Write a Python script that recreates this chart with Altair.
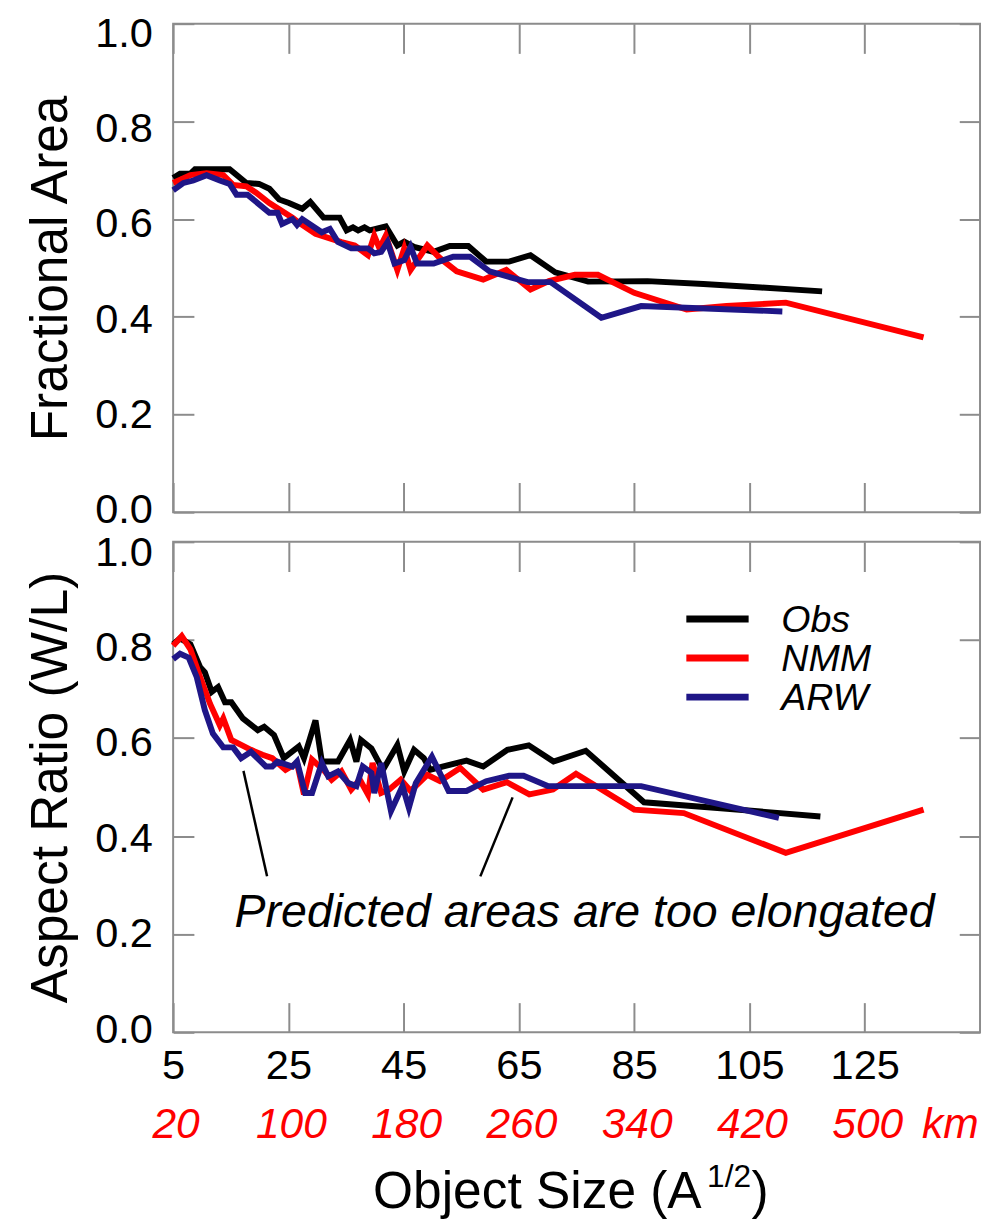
import altair as alt
import pandas as pd

# ---------------- data ----------------
SERIES = ["Obs", "NMM", "ARW"]
COLORS = ["#000000", "#ff0000", "#1f1687"]

X_TICKS = [5, 25, 45, 65, 85, 105, 125]
Y_TICKS = [0.0, 0.2, 0.4, 0.6, 0.8, 1.0]
KM_LABELS = ["20", "100", "180", "260", "340", "420", "500"]
KM_UNIT = "km"

TOP_TITLE = "Fractional Area"
BOT_TITLE = "Aspect Ratio (W/L)"
X_TITLE_MAIN = "Object Size (A"
X_TITLE_SUP = "1/2"
X_TITLE_END = ")"
NOTE = "Predicted areas are too elongated"

# top panel: Fractional Area
obs_top_x = [5, 6.2, 8.0, 8.8, 14.8, 17.7, 19.9, 21.7, 23.4, 25.1, 27.4, 28.8, 31.1, 33.9, 35.1, 36.2,
             37.1, 38.2, 39.1, 41.9, 43.9, 45.1, 46.8, 50.2, 53.0, 56.2, 59.3, 63.3, 67.0, 71.3, 77.0,
             87.3, 97.0, 107.0, 117.6]
obs_top_y = [0.684, 0.693, 0.693, 0.702, 0.702, 0.674, 0.672, 0.662, 0.640, 0.633, 0.621, 0.635, 0.603,
             0.603, 0.577, 0.583, 0.577, 0.583, 0.577, 0.585, 0.546, 0.554, 0.543, 0.533, 0.545, 0.545,
             0.513, 0.513, 0.526, 0.491, 0.472, 0.473, 0.467, 0.460, 0.452]

nmm_top_x = [5, 8.0, 10.8, 13.7, 15.4, 17.7, 19.4, 21.7, 23.4, 25.7, 26.8, 29.7, 34.2, 36.5, 38.8, 39.9,
             40.8, 41.9, 43.9, 45.1, 46.2, 49.1, 51.3, 54.2, 58.8, 62.8, 67.0, 70.2, 74.7, 78.7, 85.0,
             94.1, 101.0, 111.3, 135.2]
nmm_top_y = [0.674, 0.690, 0.694, 0.690, 0.670, 0.667, 0.654, 0.633, 0.620, 0.603, 0.593, 0.570, 0.553,
             0.546, 0.526, 0.566, 0.540, 0.566, 0.496, 0.540, 0.496, 0.546, 0.520, 0.493, 0.476, 0.496,
             0.456, 0.473, 0.486, 0.486, 0.449, 0.415, 0.422, 0.429, 0.358]

arw_top_x = [5, 6.8, 8.5, 10.8, 13.1, 14.8, 16.0, 17.9, 21.7, 23.1, 23.9, 25.7, 26.5, 27.4, 30.8, 32.2,
             33.6, 35.9, 38.8, 39.9, 41.1, 42.2, 43.4, 45.1, 46.2, 47.3, 50.2, 53.6, 56.5, 59.9, 66.5,
             70.5, 79.3, 86.2, 110.7]
arw_top_y = [0.659, 0.674, 0.679, 0.690, 0.679, 0.672, 0.650, 0.650, 0.613, 0.613, 0.590, 0.600, 0.588,
             0.600, 0.573, 0.580, 0.553, 0.540, 0.540, 0.530, 0.533, 0.553, 0.509, 0.516, 0.543, 0.509,
             0.509, 0.523, 0.523, 0.493, 0.471, 0.471, 0.398, 0.422, 0.411]

# bottom panel: Aspect Ratio
obs_bot_x = [5, 6.2, 8.0, 9.7, 10.5, 11.7, 12.8, 14.0, 15.1, 17.1, 19.7, 20.8, 22.5, 24.2, 26.8, 27.7,
             29.7, 30.8, 33.6, 35.7, 36.8, 37.6, 39.4, 41.4, 43.9, 45.1, 46.8, 48.5, 49.6, 51.9, 55.9,
             58.8, 63.0, 66.7, 71.0, 76.6, 86.7, 100.0, 117.3]
obs_bot_y = [0.791, 0.803, 0.791, 0.744, 0.734, 0.694, 0.704, 0.673, 0.673, 0.640, 0.616, 0.623, 0.606,
             0.559, 0.583, 0.559, 0.636, 0.552, 0.552, 0.596, 0.552, 0.596, 0.579, 0.535, 0.586, 0.532,
             0.576, 0.559, 0.535, 0.542, 0.554, 0.542, 0.576, 0.585, 0.552, 0.574, 0.469, 0.457, 0.440]

nmm_bot_x = [5, 6.5, 8.0, 9.7, 11.4, 13.1, 13.7, 15.1, 16.8, 18.5, 20.5, 22.2, 24.5, 26.5, 27.7, 29.1,
             31.1, 32.5, 34.2, 35.9, 37.4, 38.8, 39.6, 41.1, 42.5, 44.5, 46.2, 49.1, 51.3, 54.8, 58.8,
             62.9, 66.8, 70.9, 74.9, 85.0, 93.6, 111.3, 135.2]
nmm_bot_y = [0.788, 0.808, 0.781, 0.724, 0.670, 0.626, 0.640, 0.596, 0.586, 0.576, 0.566, 0.559, 0.535,
             0.549, 0.485, 0.556, 0.535, 0.515, 0.532, 0.495, 0.515, 0.485, 0.549, 0.488, 0.495, 0.515,
             0.492, 0.525, 0.512, 0.539, 0.495, 0.510, 0.485, 0.495, 0.527, 0.454, 0.447, 0.366, 0.454]

arw_bot_x = [5, 6.2, 7.7, 9.1, 10.5, 11.9, 13.7, 15.4, 16.8, 18.5, 21.1, 22.2, 23.1, 25.7, 26.5, 27.9,
             29.1, 30.8, 31.9, 33.6, 35.4, 36.8, 37.9, 39.4, 39.9, 41.1, 42.8, 44.8, 45.9, 47.1, 49.9,
             52.8, 55.9, 59.3, 63.3, 65.8, 70.0, 86.2, 110.1]
arw_bot_y = [0.761, 0.772, 0.764, 0.724, 0.657, 0.609, 0.581, 0.581, 0.559, 0.572, 0.542, 0.542, 0.552,
             0.542, 0.552, 0.488, 0.488, 0.549, 0.522, 0.532, 0.508, 0.502, 0.542, 0.529, 0.488, 0.549,
             0.451, 0.502, 0.458, 0.508, 0.562, 0.492, 0.492, 0.512, 0.523, 0.523, 0.502, 0.502, 0.437]

# annotation pointers (data coordinates) and note position
ptr_x1 = [17.2, 63.9]
ptr_y1 = [0.533, 0.479]
ptr_x2 = [21.3, 58.3]
ptr_y2 = [0.318, 0.318]
note_x = [76.4]
note_y = [0.215]

# ---------------- styling ----------------
FONT = "Liberation Sans"
GRAY = "#8c8c8c"
W = 816
H_TOP = 494
H_BOT = 496


def long_df(xs_list, ys_list):
    rows = []
    for name, xs, ys in zip(SERIES, xs_list, ys_list):
        for i, (a, b) in enumerate(zip(xs, ys)):
            rows.append({"series": name, "x": a, "y": b, "i": i})
    return pd.DataFrame(rows)


top_df = long_df([obs_top_x, nmm_top_x, arw_top_x], [obs_top_y, nmm_top_y, arw_top_y])
bot_df = long_df([obs_bot_x, nmm_bot_x, arw_bot_x], [obs_bot_y, nmm_bot_y, arw_bot_y])

x_scale = alt.Scale(domain=[5, 145], nice=False, zero=False)
y_scale = alt.Scale(domain=[0, 1], nice=False, zero=False)
color = alt.Color("series:N", scale=alt.Scale(domain=SERIES, range=COLORS), legend=None)


def left_axis(title):
    return alt.Axis(orient="left", values=Y_TICKS, format=".1f", offset=-21, tickSize=21,
                    tickColor=GRAY, tickWidth=2, domain=False, grid=False, labelPadding=21,
                    labelOffset={"expr": "-3 + 13.5 * datum.value"},
                    labelFont=FONT, labelFontSize=42, labelColor="#000000",
                    labelFlush=False, labelOverlap=False,
                    title=title, titleFont=FONT, titleFontSize=52, titleFontWeight="normal",
                    titleColor="#000000", titleAngle=270, titleBaseline="bottom", titleX=-118)


def bottom_axis(show_labels):
    if show_labels:
        return alt.Axis(orient="bottom", values=X_TICKS, offset=-30, tickSize=30, tickColor=GRAY,
                        tickWidth=2, domain=False, grid=False, labelPadding=14, labelFont=FONT,
                        labelFontSize=42, labelColor="#000000", labelFlush=False, labelOverlap=False,
                        format="d")
    return alt.Axis(orient="bottom", values=X_TICKS, offset=-30, tickSize=30, tickColor=GRAY,
                    tickWidth=2, domain=False, grid=False, labels=False)


top_axis = alt.Axis(orient="top", values=X_TICKS, offset=-30, tickSize=30, tickColor=GRAY,
                    tickWidth=2, domain=False, grid=False, labels=False)
right_axis = alt.Axis(orient="right", values=Y_TICKS, offset=-21, tickSize=21, tickColor=GRAY,
                      tickWidth=2, domain=False, grid=False, labels=False)


def panel(df, title, show_labels, height, extra_layers):
    lines = alt.Chart(df).mark_line(strokeWidth=6).encode(
        x=alt.X("x:Q", scale=x_scale, axis=bottom_axis(show_labels), title=None),
        y=alt.Y("y:Q", scale=y_scale, axis=left_axis(title)),
        color=color,
        order="i:Q",
    )
    ghost = alt.Chart(df).mark_line(opacity=0).encode(
        x=alt.X("x:Q", scale=x_scale, axis=top_axis, title=None),
        y=alt.Y("y:Q", scale=y_scale, axis=right_axis, title=None),
        detail="series:N",
    )
    return alt.layer(lines, ghost, *extra_layers).resolve_axis(
        x="independent", y="independent").properties(width=W, height=height)


# ---- bottom panel extras ----
ptr_df = pd.DataFrame({"x": ptr_x1, "y": ptr_y1, "x2": ptr_x2, "y2": ptr_y2})
pointers = alt.Chart(ptr_df).mark_rule(strokeWidth=2.5, color="#000000").encode(
    x=alt.X("x:Q", scale=x_scale, axis=None),
    y=alt.Y("y:Q", scale=y_scale, axis=None),
    x2="x2:Q", y2="y2:Q",
)
note_df = pd.DataFrame({"x": note_x, "y": note_y, "t": [NOTE]})
note = alt.Chart(note_df).mark_text(font=FONT, fontSize=47, fontStyle="italic", align="center",
                                    baseline="alphabetic", color="#000000").encode(
    x=alt.X("x:Q", scale=x_scale, axis=None),
    y=alt.Y("y:Q", scale=y_scale, axis=None),
    text="t:N",
)

legend_layers = []
for i, (name, col) in enumerate(zip(SERIES, COLORS)):
    row = pd.DataFrame({"label": [name]})
    yy = 78 + 39.5 * i
    legend_layers.append(alt.Chart(row).mark_rule(strokeWidth=7, color=col).encode(
        x=alt.value(519), x2=alt.value(582), y=alt.value(yy)))
    legend_layers.append(alt.Chart(row).mark_text(
        align="left", baseline="middle", font=FONT, fontSize=38, fontStyle="italic",
        color="#000000", dy=2).encode(x=alt.value(615), y=alt.value(yy), text="label:N"))

km_df = pd.DataFrame({"x": X_TICKS, "t": KM_LABELS})
km_text = alt.Chart(km_df).mark_text(font=FONT, fontSize=43, fontStyle="italic", color="#ff0000",
                                     align="center", baseline="alphabetic", dx=3).encode(
    x=alt.X("x:Q", scale=x_scale, axis=None), y=alt.value(H_BOT + 107), text="t:N")
km_unit = alt.Chart(pd.DataFrame({"x": [X_TICKS[-1]], "t": [KM_UNIT]})).mark_text(
    font=FONT, fontSize=43, fontStyle="italic", color="#ff0000", align="left",
    baseline="alphabetic", dx=58).encode(
    x=alt.X("x:Q", scale=x_scale, axis=None), y=alt.value(H_BOT + 107), text="t:N")

xt = pd.DataFrame({"t": [X_TITLE_MAIN]})
xtitle_main = alt.Chart(xt).mark_text(font=FONT, fontSize=52, align="right", baseline="alphabetic",
                                      color="#000000").encode(
    x=alt.value(534.5), y=alt.value(674), text="t:N")
xtitle_sup = alt.Chart(pd.DataFrame({"t": [X_TITLE_SUP]})).mark_text(
    font=FONT, fontSize=32, align="left", baseline="alphabetic", color="#000000").encode(
    x=alt.value(540), y=alt.value(652), text="t:N")
xtitle_end = alt.Chart(pd.DataFrame({"t": [X_TITLE_END]})).mark_text(
    font=FONT, fontSize=52, align="left", baseline="alphabetic", color="#000000").encode(
    x=alt.value(585), y=alt.value(674), text="t:N")

top = panel(top_df, TOP_TITLE, False, H_TOP, [])
bottom = panel(bot_df, BOT_TITLE, True, H_BOT,
               [pointers, note] + legend_layers + [km_text, km_unit, xtitle_main, xtitle_sup, xtitle_end])

chart = alt.vconcat(top, bottom, spacing=30, bounds="flush").properties(
    padding={"left": 15, "top": -3, "right": 0, "bottom": 0},
    background="#ffffff",
).configure_view(stroke=GRAY, strokeWidth=2)

chart.save("out.html", embed_options={"renderer": "svg", "actions": False})
